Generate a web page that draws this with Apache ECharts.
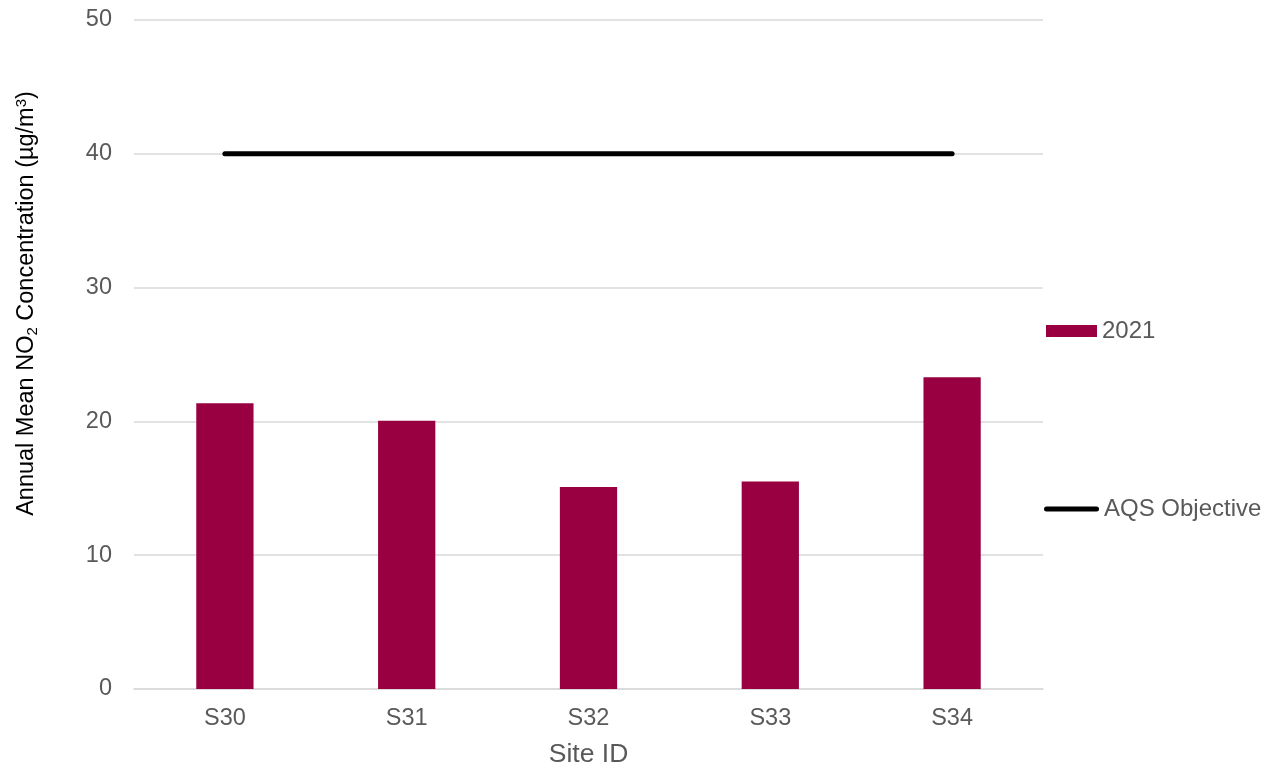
<!DOCTYPE html>
<html>
<head>
<meta charset="utf-8">
<script src="https://cdn.jsdelivr.net/npm/echarts@6/dist/echarts.min.js"></script>
<style>
  html, body { margin: 0; padding: 0; background: #fff; }
  #chart { width: 1265px; height: 773px; }
</style>
</head>
<body>
<div id="chart"></div>
<script>
// Site categories and annual mean NO2 values (µg/m³)
const sites = ['S30', 'S31', 'S32', 'S33', 'S34'];
const values2021 = [21.35, 20.05, 15.1, 15.5, 23.3];
const objective = [40, 40, 40, 40, 40];
const yTicks = [0, 10, 20, 30, 40, 50];

const FONT = '"Liberation Sans", Arial, sans-serif';
const TEXT = '#595959';

// rounded bar used as the legend swatch for the objective line
const LINE_ICON = 'path://M2.5,0 L52.5,0 A2.5,2.5 0 0 1 52.5,5 L2.5,5 A2.5,2.5 0 0 1 2.5,0 Z';

const chart = echarts.init(document.getElementById('chart'));
chart.setOption({
  animation: false,
  textStyle: { fontFamily: FONT },
  grid: { left: 134, width: 909, top: 20, height: 675.5 },
  legend: [
    {
      left: 1041,
      top: 314,
      itemWidth: 51,
      itemHeight: 12,
      textStyle: { color: TEXT, fontSize: 24, fontFamily: FONT },
      data: [{ name: '2021', icon: 'rect' }]
    },
    {
      left: 1039,
      top: 492,
      itemWidth: 55,
      itemHeight: 5,
      textStyle: { color: TEXT, fontSize: 24, fontFamily: FONT },
      data: [{ name: 'AQS Objective', icon: LINE_ICON, itemStyle: { color: '#000' } }]
    }
  ],
  xAxis: {
    type: 'category',
    data: sites,
    name: 'Site ID',
    nameLocation: 'middle',
    nameGap: 52,
    nameTextStyle: { color: TEXT, fontSize: 26.5, fontFamily: FONT },
    axisLine: { lineStyle: { color: '#d9d9d9', width: 1.5 } },
    axisTick: { show: false },
    axisLabel: { color: TEXT, fontSize: 23.5, margin: 18, fontFamily: FONT }
  },
  yAxis: {
    type: 'value',
    min: yTicks[0],
    max: yTicks[yTicks.length - 1],
    interval: 10,
    axisLine: { show: false },
    axisTick: { show: false },
    axisLabel: { color: TEXT, fontSize: 23.5, margin: 22, fontFamily: FONT },
    splitLine: { lineStyle: { color: '#d9d9d9', width: 1.5 } }
  },
  graphic: [{
    type: 'text',
    x: 27,
    y: 303.5,
    rotation: Math.PI / 2,
    style: {
      text: 'Annual Mean NO{sub|2} Concentration (µg/m{sup|3})',
      fill: '#000',
      fontSize: 23.5,
      fontFamily: FONT,
      align: 'center',
      verticalAlign: 'middle',
      rich: {
        sub: { fontSize: 15, fill: '#000', fontFamily: FONT, padding: [12, 0, 0, 0] },
        sup: { fontSize: 15, fill: '#000', fontFamily: FONT, padding: [0, 0, 10, 0] }
      }
    }
  }],
  series: [
    {
      name: '2021',
      type: 'bar',
      data: values2021,
      barWidth: '31.5%',
      itemStyle: { color: '#990041' }
    },
    {
      name: 'AQS Objective',
      type: 'line',
      data: objective,
      symbol: 'none',
      lineStyle: { color: '#000', width: 5, cap: 'round' },
      itemStyle: { color: '#000' }
    }
  ]
});
</script>
</body>
</html>
